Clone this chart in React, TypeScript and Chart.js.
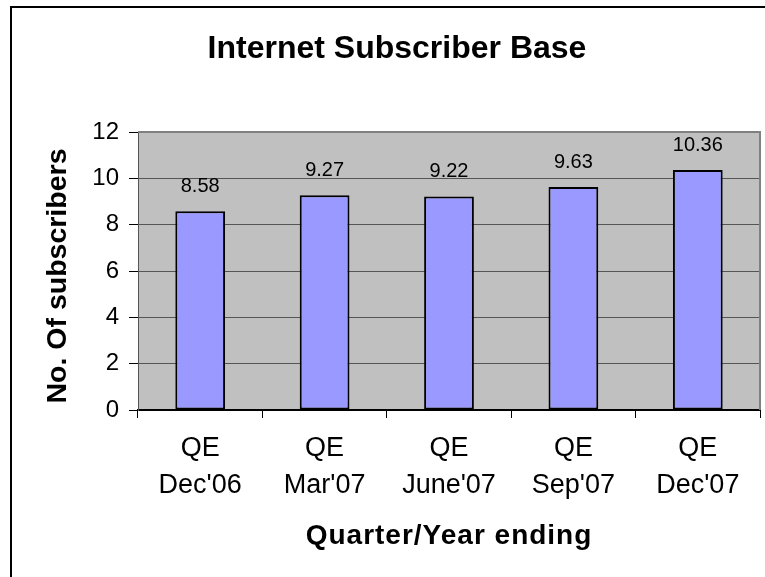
import { useEffect, useRef } from "react";
import { Chart, registerables } from "chart.js";

Chart.register(...registerables);

const categories: string[][] = [
  ["QE", "Dec'06"],
  ["QE", "Mar'07"],
  ["QE", "June'07"],
  ["QE", "Sep'07"],
  ["QE", "Dec'07"],
];
const subscribers: number[] = [8.58, 9.27, 9.22, 9.63, 10.36];
const yMin = 0;
const yMax = 12;
const yStep = 2;
const chartTitle = "Internet Subscriber Base";
const xTitle = "Quarter/Year ending";
const yTitle = "No. Of subscribers";

const FONT = "'Liberation Sans', Arial, Helvetica, sans-serif";
const W = 765;
const H = 577;
const PLOT_LEFT = 138;
const PLOT_RIGHT = 760;
const PLOT_TOP = 132;
const PLOT_BOTTOM = 410;

const decor = {
  id: "decor",
  beforeDraw(chart: any) {
    const { ctx, chartArea: a } = chart;
    ctx.save();
    ctx.fillStyle = "#ffffff";
    ctx.fillRect(0, 0, chart.width, chart.height);
    ctx.fillStyle = "#C0C0C0";
    ctx.fillRect(a.left, a.top, a.right - a.left, a.bottom - a.top);
    ctx.restore();
  },
  beforeDatasetsDraw(chart: any) {
    const { ctx, chartArea: a } = chart;
    ctx.save();
    ctx.strokeStyle = "#808080";
    ctx.lineWidth = 2;
    ctx.beginPath();
    ctx.moveTo(a.left, a.top);
    ctx.lineTo(a.right, a.top);
    ctx.lineTo(a.right, a.bottom);
    ctx.stroke();
    ctx.restore();
  },
  afterDatasetsDraw(chart: any) {
    const { ctx } = chart;
    const meta = chart.getDatasetMeta(0);
    ctx.save();
    ctx.fillStyle = "#000000";
    ctx.font = `20px ${FONT}`;
    ctx.textAlign = "center";
    ctx.textBaseline = "alphabetic";
    meta.data.forEach((bar: any, i: number) => {
      const v = chart.data.datasets[0].data[i] as number;
      ctx.fillText(v.toFixed(2), bar.x, bar.y - 19);
    });
    ctx.restore();
  },
  afterDraw(chart: any) {
    const { ctx } = chart;
    ctx.save();
    // outer frame
    ctx.strokeStyle = "#000000";
    ctx.lineWidth = 2;
    ctx.beginPath();
    ctx.moveTo(11, H + 5);
    ctx.lineTo(11, 7);
    ctx.lineTo(W + 5, 7);
    ctx.stroke();
    // title
    ctx.fillStyle = "#000000";
    ctx.textAlign = "center";
    ctx.textBaseline = "middle";
    ctx.font = `bold 32px ${FONT}`;
    ctx.fillText(chartTitle, 397, 49);
    // x title
    ctx.font = `bold 28px ${FONT}`;
    (ctx as any).letterSpacing = "1px";
    ctx.fillText(xTitle, 449, 536);
    (ctx as any).letterSpacing = "0px";
    // y title
    ctx.font = `bold 28.5px ${FONT}`;
    ctx.translate(58, 276);
    ctx.rotate(-Math.PI / 2);
    ctx.fillText(yTitle, 0, 0);
    ctx.restore();
  },
};

export default function App() {
  const ref = useRef<HTMLCanvasElement | null>(null);
  useEffect(() => {
    if (!ref.current) return;
    const chart = new Chart(ref.current, {
      type: "bar",
      data: {
        labels: categories,
        datasets: [
          {
            data: subscribers,
            backgroundColor: "#9999FF",
            borderColor: "#000000",
            borderWidth: 2,
            borderSkipped: false,
            barPercentage: 0.4,
            categoryPercentage: 1,
          },
        ],
      },
      options: {
        responsive: false,
        animation: false,
        layout: {
          padding: { left: 0, top: PLOT_TOP, right: W - PLOT_RIGHT, bottom: 0 },
        },
        plugins: {
          legend: { display: false },
          title: { display: false },
          tooltip: { enabled: false },
        },
        scales: {
          x: {
            afterFit(scale: any) {
              scale.height = H - PLOT_BOTTOM;
            },
            grid: {
              offset: true,
              drawOnChartArea: false,
              drawTicks: true,
              tickLength: 8,
              tickColor: "#000000",
              lineWidth: 1,
            },
            border: { display: true, color: "#000000", width: 2 },
            ticks: {
              color: "#000000",
              font: { family: FONT, size: 27, lineHeight: "37px" },
              padding: 12,
              maxRotation: 0,
              autoSkip: false,
            },
          },
          y: {
            min: yMin,
            max: yMax,
            afterFit(scale: any) {
              scale.width = PLOT_LEFT;
            },
            grid: {
              color: "#555555",
              lineWidth: 1,
              drawTicks: true,
              tickLength: 9,
              tickColor: "#000000",
            },
            border: { display: true, color: "#555555", width: 1 },
            ticks: {
              stepSize: yStep,
              color: "#000000",
              font: { family: FONT, size: 24 },
              padding: 10,
            },
          },
        },
      },
      plugins: [decor],
    });
    return () => chart.destroy();
  }, []);
  return (
    <div style={{ position: "fixed", left: 0, top: 0, width: W, height: H }}>
      <canvas ref={ref} width={W} height={H} style={{ width: W, height: H, display: "block" }} />
    </div>
  );
}
